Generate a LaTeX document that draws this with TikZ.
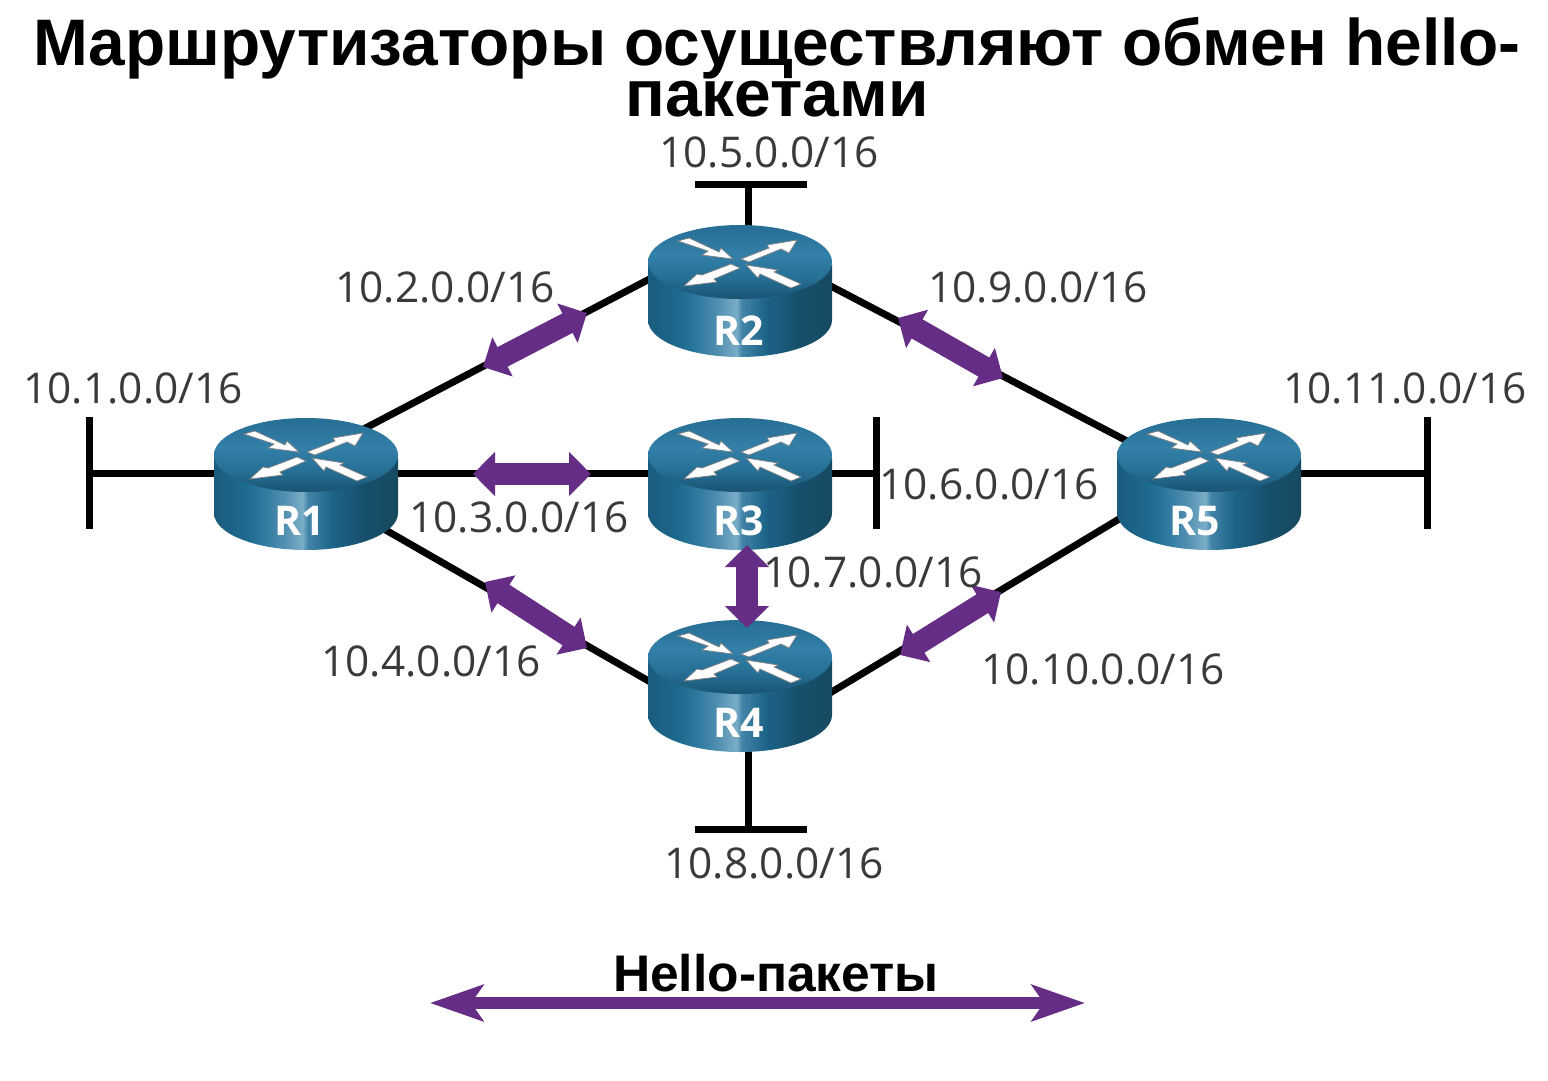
\documentclass[tikz,border=0pt]{standalone}
\usepackage{fontspec}
\setmainfont{Liberation Sans}
\newfontfamily\labelfont{Open Sans}
\usetikzlibrary{arrows.meta,calc}
\definecolor{hellopurple}{HTML}{662D87}
\definecolor{netgray}{HTML}{3A3A3A}
\pgfdeclarehorizontalshading{routerside}{100bp}{
  rgb(0bp)=(0.10,0.36,0.49);
  rgb(25bp)=(0.10,0.36,0.49);
  rgb(33bp)=(0.11,0.41,0.55);
  rgb(38bp)=(0.17,0.47,0.62);
  rgb(44bp)=(0.32,0.56,0.69);
  rgb(49bp)=(0.48,0.68,0.78);
  rgb(50.5bp)=(0.26,0.52,0.66);
  rgb(57bp)=(0.11,0.39,0.53);
  rgb(66bp)=(0.09,0.31,0.42);
  rgb(75bp)=(0.09,0.29,0.38);
  rgb(100bp)=(0.09,0.29,0.38)}
\pgfdeclareverticalshading{routertop}{100bp}{
  rgb(0bp)=(0.10,0.33,0.45);
  rgb(25bp)=(0.10,0.33,0.45);
  rgb(40bp)=(0.15,0.44,0.59);
  rgb(55bp)=(0.20,0.50,0.66);
  rgb(75bp)=(0.15,0.43,0.58);
  rgb(100bp)=(0.15,0.43,0.58)}
\tikzset{
  pics/routerpic/.style={code={
    \path[shading=routerside] (-92,-26) -- (-92,29)
      arc[start angle=180,end angle=0,x radius=92,y radius=37] -- (92,-26) -- cycle;
    \path[shading=routertop] (0,-29) ellipse[x radius=92,y radius=37];
    \begin{scope}[draw=gray,fill=white,line width=0.7pt]
    \filldraw (-62,-50) -- (-51,-53) -- (-21,-39) -- (-19,-43) -- (-7,-32) -- (-38,-36) -- (-32,-40) -- cycle;
    \filldraw (57,-51) -- (27,-46) -- (29,-43) -- (1,-32) -- (9,-29) -- (41,-42) -- (49,-38) -- cycle;
    \filldraw (-56,-5) -- (-43,-17) -- (-38,-16) -- (-9,-27) -- (0,-23) -- (-26,-12) -- (-23,-9) -- cycle;
    \filldraw (61,-7) -- (51,-3) -- (20,-17) -- (18,-13) -- (6,-26) -- (38,-21) -- (34,-19) -- cycle;
    \end{scope}
  }},
  routerbox/.style={minimum width=184,minimum height=132,inner sep=0},
  routername/.style={text=white,font=\labelfont\bfseries\fontsize{41}{41}\selectfont,inner sep=0},
  netlabel/.style={text=netgray,font=\labelfont\fontsize{42.4}{42}\selectfont,inner sep=0},
  wire/.style={draw=black,line width=7},
  hellolink/.style={draw=hellopurple,line width=22,{Triangle[length=22,width=43]}-{Triangle[length=22,width=43]}},
}
\begin{document}
\begin{tikzpicture}[x=1pt,y=-1pt]
\useasboundingbox[fill=white] (0,0) rectangle (1548,1080);
% routers
\node[routerbox] (R1) at (306,484) {};
\node[routerbox] (R2) at (740,291) {};
\node[routerbox] (R3) at (740,484) {};
\node[routerbox] (R4) at (740,686) {};
\node[routerbox] (R5) at (1209,484) {};
% ends of the stub networks
\coordinate (n1) at (89,473);
\coordinate (n1a) at (89,417);
\coordinate (n1b) at (89,529);
\coordinate (n5) at (748,184);
\coordinate (n5a) at (695,184);
\coordinate (n5b) at (807,184);
\coordinate (n6) at (876,473);
\coordinate (n6a) at (876,417);
\coordinate (n6b) at (876,529);
\coordinate (n8) at (748,829);
\coordinate (n8a) at (695,829);
\coordinate (n8b) at (807,829);
\coordinate (n11) at (1427,473);
\coordinate (n11a) at (1427,417);
\coordinate (n11b) at (1427,529);
\draw[wire] (n1a)--(n1b) (n5a)--(n5b) (n6a)--(n6b) (n8a)--(n8b) (n11a)--(n11b);
\draw[wire] (n1)--($(R1)+(0,-11)$) ($(R3)+(0,-11)$)--(n6) ($(R5)+(0,-11)$)--(n11);
\draw[wire] (n5)--($(R2)+(8,0)$) ($(R4)+(8,0)$)--(n8);
\draw[wire] ($(R1)+(50,-51)$)--($(R2)+(-60,-28)$);
\draw[wire] ($(R2)+(60,-21)$)--($(R5)+(-60,-31.5)$);
\draw[wire] ($(R1)+(50,29)$)--($(R4)+(-60,13)$);
\draw[wire] ($(R4)+(60,25)$)--($(R5)+(-60,17)$);
\draw[wire] ($(R1)+(50,-11)$)--($(R3)+(-50,-11)$);
\pic at (R1) {routerpic};
\pic at (R2) {routerpic};
\pic at (R3) {routerpic};
\pic at (R4) {routerpic};
\pic at (R5) {routerpic};
\node[routername] (R1name) at (300,521) {R1};
\node[routername] (R2name) at (739,331) {R2};
\node[routername] (R3name) at (739,521) {R3};
\node[routername] (R4name) at (739,723) {R4};
\node[routername] (R5name) at (1195,521) {R5};
% hello packets
\coordinate (h12a) at (483,367);
\coordinate (h12b) at (587,313);
\coordinate (h13a) at (473,474);
\coordinate (h13b) at (591,474);
\coordinate (h14a) at (485,582);
\coordinate (h14b) at (587,648);
\coordinate (h25a) at (898,318);
\coordinate (h25b) at (1003,378);
\coordinate (h34a) at (747,545);
\coordinate (h34b) at (747,628);
\coordinate (h45a) at (900,655);
\coordinate (h45b) at (1001,592);
\draw[hellolink] (h12a)--(h12b);
\draw[hellolink] (h13a)--(h13b);
\draw[hellolink] (h14a)--(h14b);
\draw[hellolink] (h25a)--(h25b);
\draw[hellolink] (h34a)--(h34b);
\draw[hellolink] (h45a)--(h45b);
% network labels
\node[netlabel] (l1) at (133,388) {10.1.0.0/16};
\node[netlabel] (l2) at (445,287) {10.2.0.0/16};
\node[netlabel] (l3) at (519,517) {10.3.0.0/16};
\node[netlabel] (l4) at (431,661) {10.4.0.0/16};
\node[netlabel] (l5) at (769,152) {10.5.0.0/16};
\node[netlabel] (l6) at (989,484) {10.6.0.0/16};
\node[netlabel] (l7) at (873,572) {10.7.0.0/16};
\node[netlabel] (l8) at (774,863) {10.8.0.0/16};
\node[netlabel] (l9) at (1038,287) {10.9.0.0/16};
\node[netlabel] (l10) at (1103,669) {10.10.0.0/16};
\node[netlabel] (l11) at (1405,388) {10.11.0.0/16};
% title and legend
\node[align=center,inner sep=0,font=\bfseries\fontsize{65.8}{51}\selectfont] (title) at (777,67) {Маршрутизаторы осуществляют обмен hello-\\пакетами};
\node[inner sep=0,font=\bfseries\fontsize{51.5}{51}\selectfont] (legend) at (776,973) {Hello-пакеты};
\coordinate (k1) at (430,1003);
\coordinate (k2) at (1085,1003);
\draw[draw=hellopurple,line width=12,{Stealth[length=53,width=36,inset=12]}-{Stealth[length=53,width=36,inset=12]}] (k1)--(k2);
\end{tikzpicture}
\end{document}
